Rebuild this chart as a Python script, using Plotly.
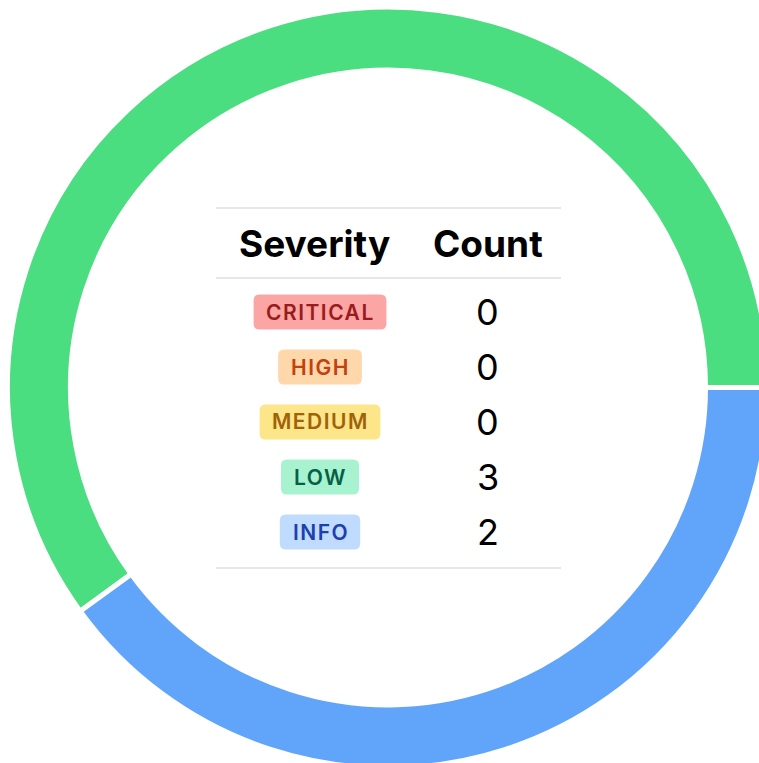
import plotly.graph_objects as go

# ---------------- data ----------------
severities = ["CRITICAL", "HIGH", "MEDIUM", "LOW", "INFO"]
counts = [0, 0, 0, 3, 2]
header_labels = ["Severity", "Count"]
slice_colors = ["#F87171", "#FB923C", "#FACC15", "#4ADE80", "#60A5FA"]
badge_bg = ["#FCA5A5", "#FED7AA", "#FDE68A", "#A7F3D0", "#BFDBFE"]
badge_fg = ["#991B1B", "#C2410C", "#A16207", "#065F46", "#1E40AF"]

# ---------------- layout geometry (pixels) ----------------
W, H = 776, 776          # canvas slightly larger than the window; the ring runs off the edge
CX, CY = 388, 387.5      # donut centre
R_OUT, R_IN, GAP = 378, 320, 5

def px(x):
    return x / W

def py(y):
    return 1 - y / H

fig = go.Figure()

rd = R_OUT + GAP / 2
hole = (R_IN - GAP / 2) / rd
fig.add_trace(go.Pie(
    labels=severities,
    values=counts,
    sort=False,
    direction="counterclockwise",
    rotation=90,
    hole=hole,
    textinfo="none",
    showlegend=False,
    marker=dict(colors=slice_colors, line=dict(color="white", width=GAP)),
    domain=dict(x=[px(CX - rd), px(CX + rd)], y=[py(CY + rd), py(CY - rd)]),
))

# ---------------- centre table ----------------
TX0, TX1 = 216, 561
LINE_TOP, HEAD_Y, LINE_HEAD = 208, 243, 278
ROW0, ROW_STEP = 312, 55
COL_SEV_HEAD, COL_SEV, COL_CNT = 314, 320, 487.5
LINE_COLOR = "#E5E7EB"

n = len(severities)
line_bottom = ROW0 + (n - 1) * ROW_STEP + 36
shapes = []
for yy in (LINE_TOP, LINE_HEAD, line_bottom):
    shapes.append(dict(type="line", xref="paper", yref="paper",
                       x0=px(TX0), x1=px(TX1), y0=py(yy), y1=py(yy),
                       line=dict(color=LINE_COLOR, width=2)))

annotations = []
for lab, xc in zip(header_labels, (COL_SEV_HEAD, COL_CNT)):
    annotations.append(dict(text=lab, xref="paper", yref="paper", x=px(xc), y=py(HEAD_Y),
                            xanchor="center", yanchor="middle", showarrow=False,
                            font=dict(family="Inter, Liberation Sans, sans-serif", size=37,
                                      color="#000000", weight=700)))

# approximate Inter SemiBold uppercase advance widths (em)
CHAR_W = {"A": 0.71, "C": 0.73, "D": 0.74, "E": 0.60, "F": 0.58, "G": 0.76, "H": 0.76,
          "I": 0.28, "L": 0.56, "M": 0.91, "N": 0.76, "O": 0.78, "R": 0.67, "T": 0.65,
          "U": 0.74, "W": 1.02}
BADGE_FS, BADGE_LS, BADGE_PAD, BADGE_H, BADGE_R = 21, 1.5, 12, 35, 6

def rounded_rect(x0, y0, x1, y1, r):
    def P(x, y):
        return f"{px(x):.6f},{py(y):.6f}"
    return (f"M {P(x0 + r, y0)} L {P(x1 - r, y0)} Q {P(x1, y0)} {P(x1, y0 + r)} "
            f"L {P(x1, y1 - r)} Q {P(x1, y1)} {P(x1 - r, y1)} "
            f"L {P(x0 + r, y1)} Q {P(x0, y1)} {P(x0, y1 - r)} "
            f"L {P(x0, y0 + r)} Q {P(x0, y0)} {P(x0 + r, y0)} Z")

for i, (sev, cnt) in enumerate(zip(severities, counts)):
    yc = ROW0 + i * ROW_STEP
    tw = sum(CHAR_W.get(ch, 0.7) for ch in sev) * BADGE_FS + BADGE_LS * len(sev)
    bw = tw + 2 * BADGE_PAD
    shapes.append(dict(type="path", xref="paper", yref="paper", layer="above",
                       path=rounded_rect(COL_SEV - bw / 2, yc - BADGE_H / 2,
                                         COL_SEV + bw / 2, yc + BADGE_H / 2, BADGE_R),
                       fillcolor=badge_bg[i], line=dict(width=0)))
    annotations.append(dict(text=f'<span style="letter-spacing:{BADGE_LS}px">{sev}</span>',
                            xref="paper", yref="paper", x=px(COL_SEV + BADGE_LS / 2), y=py(yc),
                            xanchor="center", yanchor="middle", showarrow=False,
                            font=dict(family="Inter, Liberation Sans, sans-serif", size=BADGE_FS,
                                      color=badge_fg[i], weight=600)))
    annotations.append(dict(text=str(cnt), xref="paper", yref="paper", x=px(COL_CNT), y=py(yc),
                            xanchor="center", yanchor="middle", showarrow=False,
                            font=dict(family="Inter, Liberation Sans, sans-serif", size=36,
                                      color="#000000", weight=400)))

fig.update_layout(
    width=W, height=H,
    margin=dict(l=0, r=0, t=0, b=0, pad=0),
    paper_bgcolor="white", plot_bgcolor="white",
    shapes=shapes, annotations=annotations,
    showlegend=False,
)

fig.write_html("out.html", config={"displayModeBar": False},
               post_script="document.body.style.margin='0';document.body.style.overflow='hidden';")
